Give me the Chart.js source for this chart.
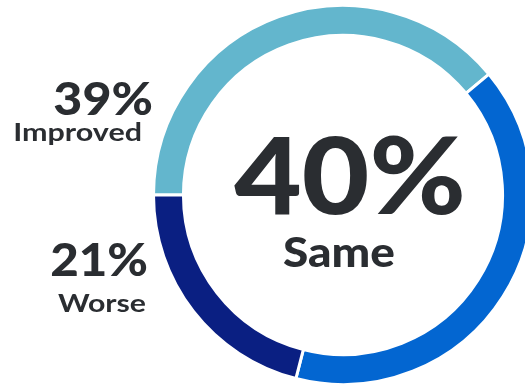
<!DOCTYPE html>
<html>
<head>
<meta charset="utf-8">
<script src="https://cdn.jsdelivr.net/npm/chart.js@4"></script>
<style>
  html, body { margin: 0; padding: 0; background: #ffffff; overflow: hidden; }
  #wrap { position: absolute; left: 0; top: 0; width: 540px; height: 387px; }
</style>
</head>
<body>
<div id="wrap"><canvas id="ring" width="540" height="387"></canvas></div>
<script>
// Survey outcome shares (percent)
const categories = ['Improved', 'Same', 'Worse'];
const shares = [39, 40, 21];
const ringColors = ['#63b6cd', '#0366d1', '#0a1f82'];
const highlightIndex = 1; // category shown in the middle of the ring

const ink = '#2a2d31';
const family = 'Lato, "Open Sans", sans-serif';

// fillText with a horizontal stretch around the anchor point
function stretchText(ctx, text, x, y, align, font, sx) {
  ctx.save();
  ctx.font = font;
  ctx.textAlign = align;
  ctx.translate(x, y);
  ctx.scale(sx, 1);
  ctx.fillText(text, 0, 0);
  ctx.restore();
}

// Text drawn on the canvas: the headline in the middle and side labels
const ringLabels = {
  id: 'ringLabels',
  afterDraw(chart) {
    const ctx = chart.ctx;
    ctx.save();
    ctx.fillStyle = ink;
    ctx.textBaseline = 'alphabetic';

    // centre headline
    stretchText(ctx, shares[highlightIndex] + '%', 350, 214, 'center', '900 106px ' + family, 1.1);
    stretchText(ctx, categories[highlightIndex], 339, 267, 'center', '900 41px ' + family, 1.12);

    // side labels
    stretchText(ctx, shares[0] + '%', 153, 115, 'right', '900 46px ' + family, 1.09);
    stretchText(ctx, shares[2] + '%', 148, 276, 'right', '900 46px ' + family, 1.07);
    stretchText(ctx, categories[0], 142, 141, 'right', '700 25px ' + family, 1.22);
    stretchText(ctx, categories[2], 146, 312, 'right', '700 25px ' + family, 1.21);
    ctx.restore();
  }
};

new Chart(document.getElementById('ring'), {
  type: 'doughnut',
  data: {
    labels: categories,
    datasets: [{
      data: shares,
      backgroundColor: ringColors,
      borderColor: '#ffffff',
      borderWidth: 3,
      hoverOffset: 0
    }]
  },
  options: {
    responsive: false,
    animation: false,
    rotation: 270,
    cutout: '84.2%',
    layout: { padding: { left: 152, top: 4, right: 6, bottom: 1 } },
    plugins: {
      legend: { display: false },
      tooltip: { enabled: false }
    },
    events: []
  },
  plugins: [ringLabels]
});
</script>
</body>
</html>
